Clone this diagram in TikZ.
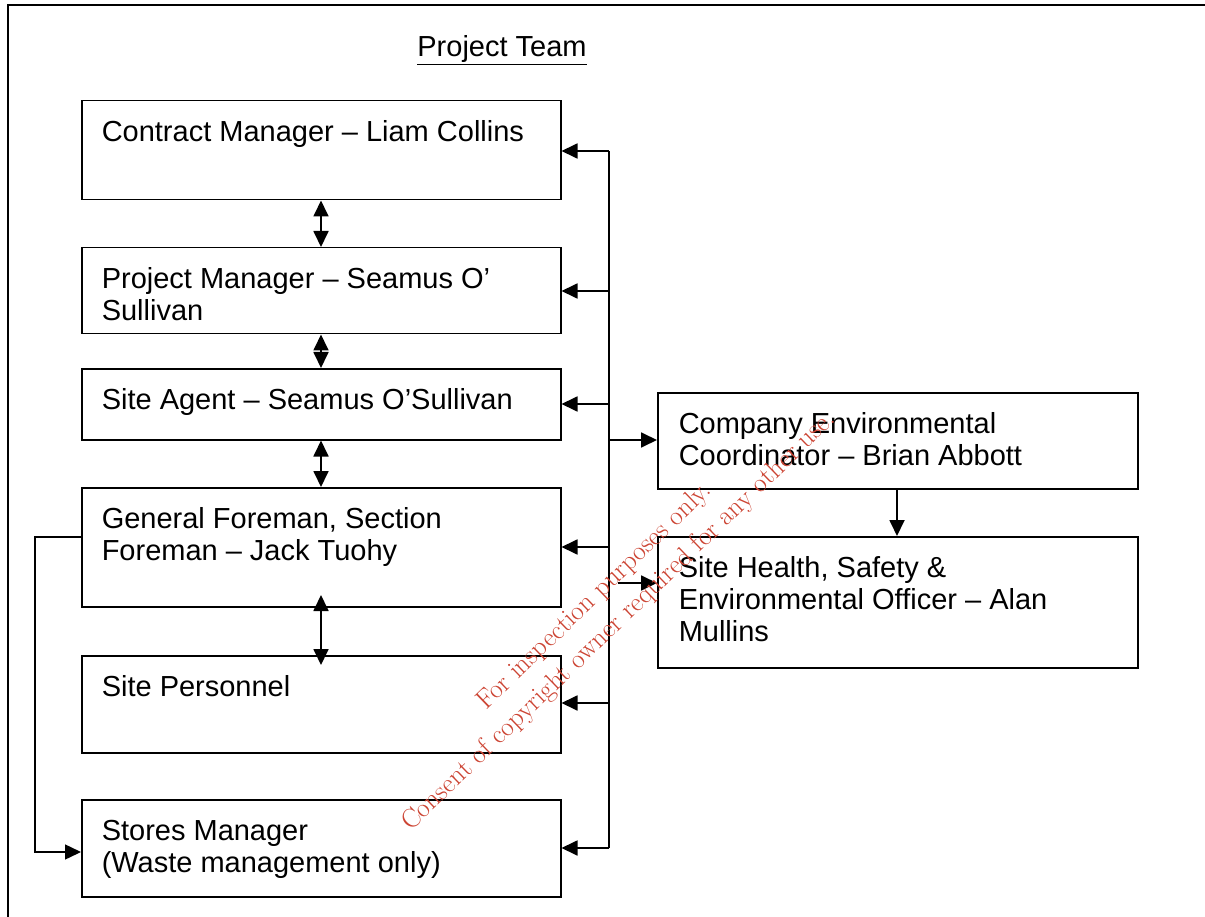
\documentclass[tikz,border=0pt]{standalone}
\usepackage{fontspec}
\newfontfamily\arial{Liberation Sans}
\usetikzlibrary{arrows.meta}
\definecolor{wmred}{RGB}{204,68,51}
\newcommand\boxtext[3]{\parbox[c][#2pt][t]{#1pt}{\arial\fontsize{29}{32}\selectfont\raggedright\rule{0pt}{41pt}#3}}
\begin{document}
\begin{tikzpicture}[x=1pt,y=-1pt,
  box/.style={draw, line width=1.5pt, inner xsep=20pt, inner ysep=0pt, anchor=north west},
  rbox/.style={box, inner xsep=21pt},
  conn/.style={line width=1.8pt, -{Triangle[length=16pt,width=15pt]}},
  dconn/.style={line width=1.8pt, {Triangle[length=16pt,width=15pt]}-{Triangle[length=16pt,width=15pt]}},
  line/.style={line width=1.8pt},
  wm/.style={text=wmred, rotate=44, align=center, font=\fontsize{27}{35}\selectfont}
]
\useasboundingbox (0,0) rectangle (1205,917);
\draw[line width=1.5pt] (8,5) rectangle (1220,930);

\node[font=\arial\fontsize{29}{32}\selectfont, anchor=base] (title) at (502,57) {\underline{Project Team}};

\node[box] (cm) at (81,100) {\boxtext{439}{99}{Contract Manager – Liam Collins}};
\node[box] (pm) at (81,247) {\boxtext{439}{86}{Project Manager – Seamus O’\\Sullivan}};
\node[box] (sa) at (81,368) {\boxtext{439}{71}{Site Agent – Seamus O’Sullivan}};
\node[box] (gf) at (81,487) {\boxtext{439}{119}{General Foreman, Section\\Foreman – Jack Tuohy}};
\node[box] (sp) at (81,655) {\boxtext{439}{97}{Site Personnel}};
\node[box] (sm) at (81,799) {\boxtext{439}{97}{Stores Manager\\(Waste management only)}};
\node[rbox] (ec) at (657,392) {\boxtext{438}{96}{Company Environmental\\Coordinator – Brian Abbott}};
\node[rbox] (sh) at (657,536) {\boxtext{438}{131}{Site Health, Safety \&\\Environmental Officer – Alan\\Mullins}};

% bus on the right of the left column
\coordinate (j1) at (609,151);
\coordinate (j2) at (609,291);
\coordinate (j3) at (609,404);
\coordinate (j4) at (609,547);
\coordinate (j5) at (609,703);
\coordinate (j6) at (609,848);
\coordinate (j7) at (609,440);
\coordinate (j8) at (618,583);
\draw[line] (j1) -- (j6);
\draw[conn] (j1) -- (j1 -| cm.east);
\draw[conn] (j2) -- (j2 -| pm.east);
\draw[conn] (j3) -- (j3 -| sa.east);
\draw[conn] (j4) -- (j4 -| gf.east);
\draw[conn] (j5) -- (j5 -| sp.east);
\draw[conn] (j6) -- (j6 -| sm.east);
\draw[conn] (j7) -- (j7 -| ec.west);
\draw[conn] (j8) -- (j8 -| sh.west);

% vertical links
\coordinate (dx) at (321,0);
\coordinate (ex) at (897,0);
\coordinate (d4) at (321,595);
\coordinate (d5) at (321,665);
\draw[dconn] (cm.south -| dx) -- (pm.north -| dx);
\draw[dconn] (pm.south -| dx) -- (sa.north -| dx);
\draw[dconn] (sa.south -| dx) -- (gf.north -| dx);
\draw[dconn] (d4) -- (d5);
\draw[conn] (ec.south -| ex) -- (sh.north -| ex);

% left link
\coordinate (l1) at (35,537);
\coordinate (l2) at (0,852);
\draw[conn, line width=1.5pt] (gf.west |- l1) -- (l1) |- (sm.west |- l2);

% watermark
\node[wm] (wmark) at (607,609) {For inspection purposes only.\\Consent of copyright owner required for any other use.};
\end{tikzpicture}
\end{document}
